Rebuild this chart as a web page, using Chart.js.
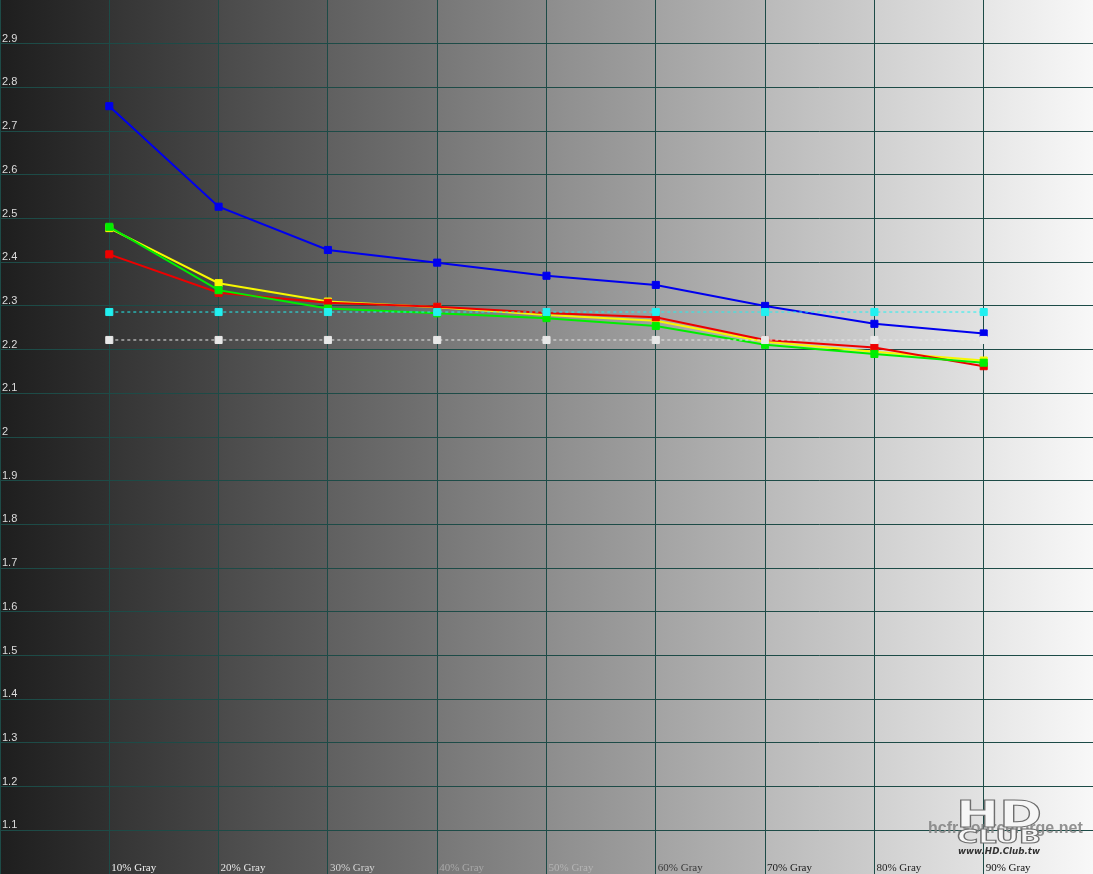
<!DOCTYPE html>
<html><head><meta charset="utf-8">
<script src="https://cdn.jsdelivr.net/npm/chart.js@4"></script>
<style>html,body{margin:0;padding:0;background:#fff;overflow:hidden}#wrap{width:1093px;height:874px}canvas{display:block}</style>
</head><body><div id="wrap"><canvas id="c" width="1093" height="874"></canvas></div>
<script>
// ---- data ----
const categories = [10, 20, 30, 40, 50, 60, 70, 80, 90];
const xTickLabels = ['10% Gray','20% Gray','30% Gray','40% Gray','50% Gray','60% Gray','70% Gray','80% Gray','90% Gray'];
const xTickColors = ['#f0f0f0','#e4e4e4','#d2d2d2','#a8a8a8','#b4b4b4','#3a3a3a','#1a1a1a','#1e1e1e','#101010'];
const yTickValues = [1.1,1.2,1.3,1.4,1.5,1.6,1.7,1.8,1.9,2.0,2.1,2.2,2.3,2.4,2.5,2.6,2.7,2.8,2.9];
const yTickLabels = ['1.1','1.2','1.3','1.4','1.5','1.6','1.7','1.8','1.9','2','2.1','2.2','2.3','2.4','2.5','2.6','2.7','2.8','2.9'];
const blueGamma   = [2.757, 2.527, 2.428, 2.399, 2.369, 2.348, 2.300, 2.259, 2.237];
const redGamma    = [2.418, 2.330, 2.307, 2.298, 2.284, 2.274, 2.222, 2.205, 2.162];
const yellowGamma = [2.478, 2.352, 2.310, 2.297, 2.279, 2.266, 2.218, 2.195, 2.175];
const greenGamma  = [2.481, 2.336, 2.294, 2.283, 2.272, 2.254, 2.211, 2.190, 2.170];
const cyanTarget  = [2.286, 2.286, 2.286, 2.286, 2.286, 2.286, 2.286, 2.286, 2.286];
const whiteTarget = [2.222, 2.222, 2.222, 2.222, 2.222, 2.222, 2.222, 2.222, 2.222];

const pts = arr => categories.map((c, i) => ({x: c, y: arr[i]}));
const GRID = '#1d4b47';

const bgPlugin = {
  id: 'bg',
  beforeDraw(chart) {
    const {ctx, chartArea: a} = chart;
    const xs = chart.scales.x;
    ctx.save();
    for (let i = 0; i < 10; i++) {
      const x0 = xs.getPixelForValue(i * 10), x1 = xs.getPixelForValue(i * 10 + 10);
      const s = 30 + 22.3 * i, e = s + 18;
      const g = ctx.createLinearGradient(x0, 0, x1, 0);
      g.addColorStop(0, `rgb(${s|0},${s|0},${s|0})`);
      const ee = Math.min(252, e) | 0;
      g.addColorStop(1, `rgb(${ee},${ee},${ee})`);
      ctx.fillStyle = g;
      ctx.fillRect(x0, a.top, x1 - x0 + 1, a.bottom - a.top);
    }
    ctx.restore();
  }
};

function stretchedText(ctx, text, cx, baseline, width, fill, stroke) {
  const w = ctx.measureText(text).width;
  ctx.save();
  ctx.translate(cx, baseline);
  ctx.scale(width / w, 1);
  ctx.textAlign = 'center';
  ctx.fillStyle = fill;
  ctx.fillText(text, 0, 0);
  if (stroke) { ctx.strokeStyle = stroke; ctx.lineWidth = 1; ctx.strokeText(text, 0, 0); }
  ctx.restore();
}

const labelPlugin = {
  id: 'labels',
  beforeDatasetsDraw(chart) {
    const {ctx} = chart;
    const xs = chart.scales.x, ys = chart.scales.y;
    ctx.save();
    // y labels
    ctx.font = '11px "Liberation Sans", "DejaVu Sans", sans-serif';
    ctx.fillStyle = '#dcdcdc';
    ctx.textAlign = 'left';
    ctx.textBaseline = 'alphabetic';
    yTickValues.forEach((v, i) => {
      ctx.fillText(yTickLabels[i], 2, ys.getPixelForValue(v) - 2);
    });
    // x labels
    ctx.font = '11px "Liberation Serif", "DejaVu Serif", serif';
    categories.forEach((c, i) => {
      ctx.fillStyle = xTickColors[i];
      ctx.fillText(xTickLabels[i], xs.getPixelForValue(c) + 2, 871);
    });
    // watermark
    ctx.font = 'bold 16px "Liberation Sans", Arial, sans-serif';
    ctx.fillStyle = 'rgba(128,128,128,0.85)';
    ctx.fillText('hcfr.sourceforge.net', 928, 833, 155);
    // HD Club logo
    const g = ctx.createLinearGradient(0, 798, 0, 845);
    g.addColorStop(0, '#f6f6f6'); g.addColorStop(0.45, '#b4b4b4'); g.addColorStop(0.7, '#9a9a9a'); g.addColorStop(1, '#d8d8d8');
    ctx.font = 'bold 37px "DejaVu Sans", sans-serif';
    stretchedText(ctx, 'HD', 999, 827, 86, g, '#6e6e6e');
    ctx.font = 'bold 20px "DejaVu Sans", sans-serif';
    stretchedText(ctx, 'CLUB', 999, 843, 84, g, '#6e6e6e');
    ctx.font = 'italic bold 8px "DejaVu Sans", sans-serif';
    stretchedText(ctx, 'www.HD.Club.tw', 999, 854, 82, '#333333', null);
    ctx.restore();
  }
};

const ds = (label, arr, color, opts = {}) => Object.assign({
  label, data: pts(arr), borderColor: color, backgroundColor: color,
  pointBackgroundColor: color, pointBorderColor: color,
  borderWidth: 2, pointStyle: 'rect', pointRadius: 5, pointBorderWidth: 1,
  tension: 0, fill: false
}, opts);

new Chart(document.getElementById('c'), {
  type: 'line',
  data: {
    datasets: [
      ds('White target', whiteTarget, '#e8e8e8', {borderWidth: 1, borderDash: [3, 3]}),
      ds('Cyan target', cyanTarget, '#22f0f0', {borderWidth: 1, borderDash: [3, 3]}),
      ds('Green', greenGamma, '#00ee00'),
      ds('Red', redGamma, '#ee0000'),
      ds('Yellow', yellowGamma, '#f8f800'),
      ds('Blue', blueGamma, '#0000ee')
    ]
  },
  options: {
    responsive: false,
    animation: false,
    devicePixelRatio: 1,
    layout: {padding: 0, autoPadding: false},
    plugins: {legend: {display: false}, tooltip: {enabled: false}},
    scales: {
      x: {
        type: 'linear', min: 0, max: 100,
        ticks: {display: false, stepSize: 10},
        grid: {color: ctx => (ctx.tick && ctx.tick.value >= 100) ? 'rgba(0,0,0,0)' : GRID, lineWidth: 1, drawTicks: false},
        border: {display: false}
      },
      y: {
        type: 'linear', min: 1, max: 3,
        ticks: {display: false, stepSize: 0.1, maxTicksLimit: 30},
        grid: {color: ctx => (ctx.tick && ctx.tick.value >= 2.999) ? 'rgba(0,0,0,0)' : GRID, lineWidth: 1, drawTicks: false},
        border: {display: false}
      }
    }
  },
  plugins: [bgPlugin, labelPlugin]
});
</script>
</body></html>
